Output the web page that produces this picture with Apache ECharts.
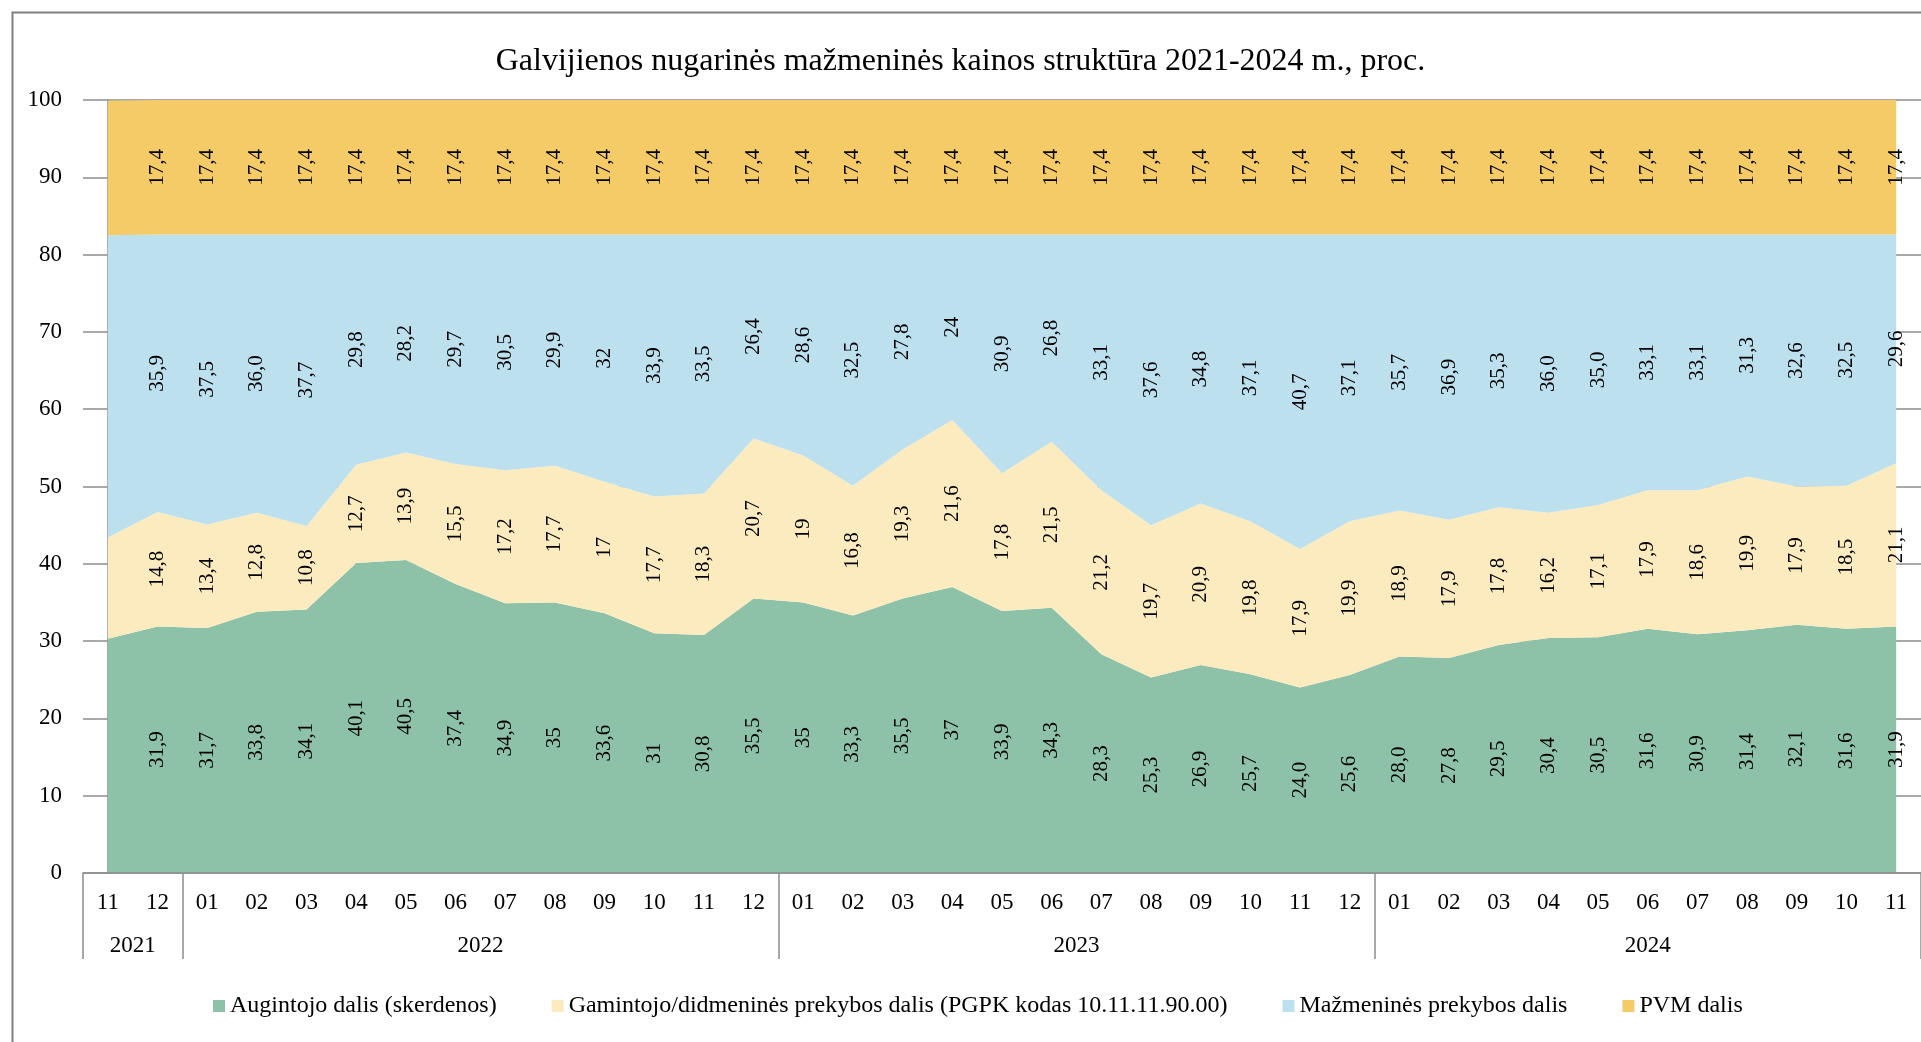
<!DOCTYPE html>
<html>
<head>
<meta charset="utf-8">
<script src="https://cdn.jsdelivr.net/npm/echarts@6/dist/echarts.min.js"></script>
<style>
  html, body { margin: 0; padding: 0; background: #fff; }
  #main { width: 1921px; height: 1042px; }
</style>
</head>
<body>
<div id="main"></div>
<script>
// 月份
let menesiai = ['11', '12',
    '01', '02', '03', '04', '05', '06', '07', '08', '09', '10', '11', '12',
    '01', '02', '03', '04', '05', '06', '07', '08', '09', '10', '11', '12',
    '01', '02', '03', '04', '05', '06', '07', '08', '09', '10', '11'];
// 年份 + 每年的月数
let metai = ['2021', '2022', '2023', '2024'];
let metuIlgis = [2, 12, 12, 11];

// 数据 (如图所示, 第一个点没有标签)
let augintojas = ['30,3', '31,9',
    '31,7', '33,8', '34,1', '40,1', '40,5', '37,4', '34,9', '35', '33,6', '31', '30,8', '35,5',
    '35', '33,3', '35,5', '37', '33,9', '34,3', '28,3', '25,3', '26,9', '25,7', '24,0', '25,6',
    '28,0', '27,8', '29,5', '30,4', '30,5', '31,6', '30,9', '31,4', '32,1', '31,6', '31,9'];
let gamintojas = ['13,1', '14,8',
    '13,4', '12,8', '10,8', '12,7', '13,9', '15,5', '17,2', '17,7', '17', '17,7', '18,3', '20,7',
    '19', '16,8', '19,3', '21,6', '17,8', '21,5', '21,2', '19,7', '20,9', '19,8', '17,9', '19,9',
    '18,9', '17,9', '17,8', '16,2', '17,1', '17,9', '18,6', '19,9', '17,9', '18,5', '21,1'];
let mazmenine = ['39,1', '35,9',
    '37,5', '36,0', '37,7', '29,8', '28,2', '29,7', '30,5', '29,9', '32', '33,9', '33,5', '26,4',
    '28,6', '32,5', '27,8', '24', '30,9', '26,8', '33,1', '37,6', '34,8', '37,1', '40,7', '37,1',
    '35,7', '36,9', '35,3', '36,0', '35,0', '33,1', '33,1', '31,3', '32,6', '32,5', '29,6'];
let pvm = menesiai.map(() => '17,4');

let pavadinimai = ['Augintojo dalis (skerdenos)',
    'Gamintojo/didmeninės prekybos dalis (PGPK kodas 10.11.11.90.00)',
    'Mažmeninės prekybos dalis',
    'PVM dalis'];
let spalvos = ['#8ec2a8', '#fcebbe', '#bde0ee', '#f4cb66'];
let eilutes = [augintojas, gamintojas, mazmenine, pvm];

let num = (s) => parseFloat(s.replace(',', '.'));

// 年份分隔线和年份标签位置
let ribos = [-0.5];
let centrai = [];
let k = -0.5;
metuIlgis.forEach((n) => {
    centrai.push(k + n / 2);
    k += n;
    ribos.push(k);
});

let fontas = '"Liberation Serif", "Times New Roman", serif';
let pilka = '#8c8c8c';

let series = [];
// 面积图
eilutes.forEach((arr, i) => {
    series.push({
        name: pavadinimai[i],
        type: 'line',
        stack: 'viso',
        data: arr.map(num),
        symbol: 'none',
        lineStyle: { width: 0, opacity: 0 },
        areaStyle: { color: spalvos[i], opacity: 1 },
        itemStyle: { color: spalvos[i] },
        silent: true,
        z: 2
    });
});
// 标签 (透明柱子, 放在每层中间)
eilutes.forEach((arr, i) => {
    series.push({
        name: 'lbl' + i,
        type: 'bar',
        stack: 'lbl',
        data: arr.map(num),
        barWidth: 10,
        itemStyle: { color: 'rgba(0,0,0,0)' },
        silent: true,
        z: 5,
        label: {
            show: true,
            position: 'inside',
            rotate: 90,
            color: '#000',
            fontFamily: fontas,
            fontSize: 21,
            formatter: (p) => p.dataIndex === 0 ? '' : arr[p.dataIndex]
        }
    });
});

let chart = echarts.init(document.getElementById('main'));
let option = {
    animation: false,
    title: {
        text: 'Galvijienos nugarinės mažmeninės kainos struktūra 2021-2024 m., proc.',
        left: 'center',
        top: 41,
        textStyle: { fontFamily: fontas, fontSize: 32, fontWeight: 'normal', color: '#000' }
    },
    legend: {
        data: pavadinimai,
        left: 208,
        top: 989,
        icon: 'rect',
        itemWidth: 12,
        itemHeight: 12,
        itemGap: 55,
        textStyle: { fontFamily: fontas, fontSize: 24, color: '#000' }
    },
    graphic: [{
        type: 'rect',
        left: 10,
        top: 10,
        shape: { width: 2000, height: 1100 },
        style: { fill: 'none', stroke: '#7f7f7f', lineWidth: 2 },
        silent: true
    }],
    grid: { left: 83, top: 100, width: 1839, bottom: 169 },
    xAxis: [{
        type: 'category',
        data: menesiai,
        boundaryGap: true,
        axisLine: { show: true, lineStyle: { color: pilka, width: 1.5 } },
        axisTick: { show: false },
        axisLabel: { interval: 0, margin: 18, color: '#000', fontFamily: fontas, fontSize: 23 },
        z: 10
    }, {
        type: 'value',
        position: 'bottom',
        min: -0.5,
        max: 36.5,
        axisLine: { show: false },
        splitLine: { show: false },
        axisTick: {
            show: true,
            customValues: ribos,
            length: 86,
            lineStyle: { color: pilka, width: 1.5 }
        },
        axisLabel: {
            customValues: centrai,
            margin: 61,
            color: '#000',
            fontFamily: fontas,
            fontSize: 23,
            formatter: (v) => {
                let i = centrai.indexOf(v);
                return i >= 0 ? metai[i] : '';
            }
        }
    }],
    yAxis: {
        type: 'value',
        min: 0,
        max: 100,
        interval: 10,
        axisLine: { show: true, lineStyle: { color: pilka, width: 1.5 } },
        axisTick: { show: false },
        splitLine: { show: true, lineStyle: { color: pilka, width: 1.5 } },
        axisLabel: { margin: 21, color: '#000', fontFamily: fontas, fontSize: 23 }
    },
    series: series
};
chart.setOption(option);
</script>
</body>
</html>
